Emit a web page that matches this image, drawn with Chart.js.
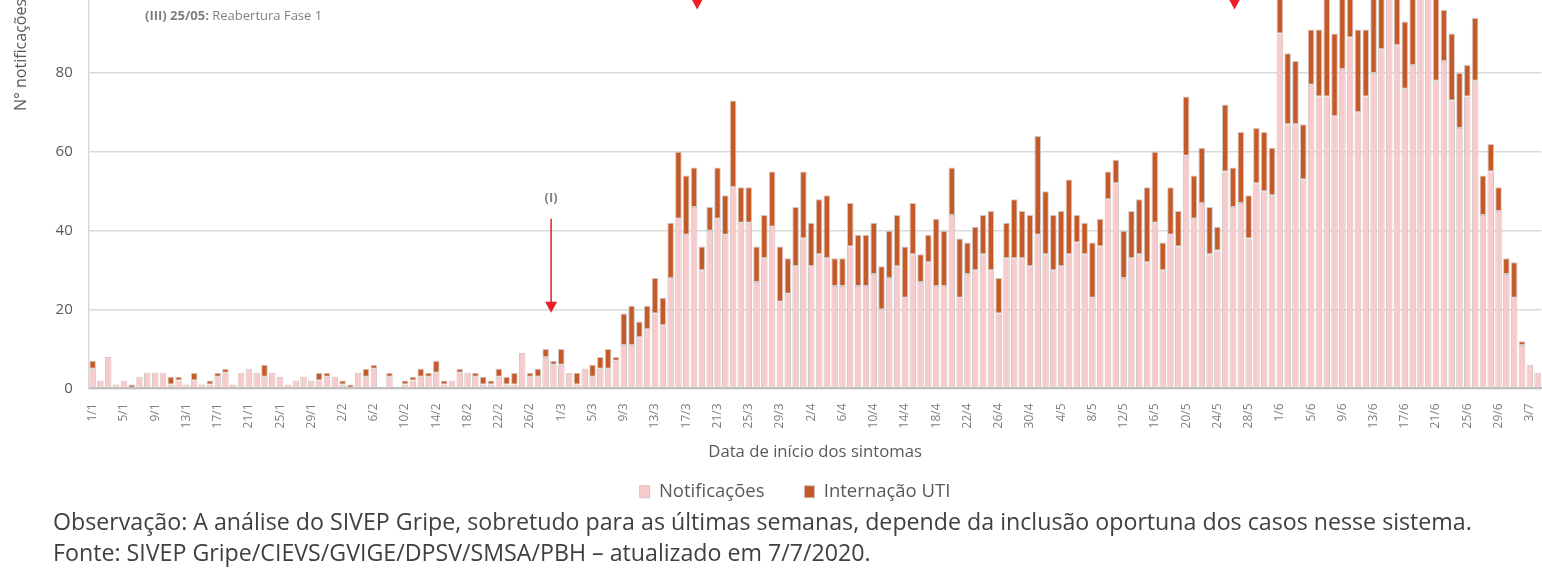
<!DOCTYPE html>
<html>
<head>
<meta charset="utf-8">
<script src="https://cdn.jsdelivr.net/npm/chart.js@4.4.0/dist/chart.umd.min.js"></script>
<style>
  html, body { margin: 0; padding: 0; background: #fff; }
  body { width: 1542px; height: 583px; overflow: hidden; position: relative; font-family: 'Open Sans', sans-serif; }
  #wrap { position: absolute; left: 0; top: -31px; width: 1559px; height: 542px; }
  #ytitle { position: absolute; left: -80px; top: 45px; width: 200px; height: 20px; line-height: 20px;
            text-align: center; transform: rotate(-90deg); font-size: 16px; color: #595959; }
  #nota { position: absolute; left: 145px; top: 7px; font-size: 13px; line-height: 16px; color: #7f7f7f; }
  #rodape { position: absolute; left: 53px; top: 506px; font-size: 23.2px; line-height: 31px; color: #404040; white-space: nowrap; }
</style>
</head>
<body>
<div id="wrap"><canvas id="grafico"></canvas></div>
<div id="ytitle">N° notificações</div>
<div id="nota"><b>(III) 25/05:</b> Reabertura Fase 1</div>
<div id="rodape">Observação: A análise do SIVEP Gripe, sobretudo para as últimas semanas, depende da inclusão oportuna dos casos nesse sistema.<br>Fonte: SIVEP Gripe/CIEVS/GVIGE/DPSV/SMSA/PBH – atualizado em 7/7/2020.</div>
<script>
// dias de 1/1 a 4/7 (2020)
var diasPorMes = [31, 29, 31, 30, 31, 30, 4];
var dias = [];
for (var m = 0; m < diasPorMes.length; m++) {
  for (var d = 1; d <= diasPorMes[m]; d++) dias.push(d + '/' + (m + 1));
}

var notificacoes = [
  5, 2, 8, 1, 2, 0, 3, 4, 4, 4, 1, 2, 1, 2, 1, 1, 3, 4, 1, 4,
  5, 4, 3, 4, 3, 1, 2, 3, 2, 2, 3, 3, 1, 0, 4, 3, 5, 0, 3, 0,
  1, 2, 3, 3, 4, 1, 2, 4, 4, 3, 1, 1, 3, 1, 1, 9, 3, 3, 8, 6,
  6, 4, 1, 5, 3, 5, 5, 7, 11, 11, 13, 15, 19, 16, 28, 43, 39, 46, 30, 40,
  43, 39, 51, 42, 42, 27, 33, 41, 22, 24, 31, 38, 31, 34, 33, 26, 26, 36, 26, 26,
  29, 20, 28, 31, 23, 34, 27, 32, 26, 26, 44, 23, 29, 30, 34, 30, 19, 33, 33, 33,
  31, 39, 34, 30, 31, 34, 37, 34, 23, 36, 48, 52, 28, 33, 34, 32, 42, 30, 39, 36,
  59, 43, 47, 34, 35, 55, 46, 47, 38, 52, 50, 49, 90, 67, 67, 53, 77, 74, 74, 69,
  81, 89, 70, 74, 80, 86, 99, 87, 76, 82, 100, 100, 78, 83, 73, 66, 74, 78, 44, 55,
  45, 29, 23, 11, 6, 4
];

var internacaoUTI = [
  2, 0, 0, 0, 0, 1, 0, 0, 0, 0, 2, 1, 0, 2, 0, 1, 1, 1, 0, 0,
  0, 0, 3, 0, 0, 0, 0, 0, 0, 2, 1, 0, 1, 1, 0, 2, 1, 0, 1, 0,
  1, 1, 2, 1, 3, 1, 0, 1, 0, 1, 2, 1, 2, 2, 3, 0, 1, 2, 2, 1,
  4, 0, 3, 0, 3, 3, 5, 1, 8, 10, 4, 6, 9, 7, 14, 17, 15, 10, 6, 6,
  13, 10, 22, 9, 9, 9, 11, 14, 14, 9, 15, 17, 11, 14, 16, 7, 7, 11, 13, 13,
  13, 11, 12, 13, 13, 13, 7, 7, 17, 14, 12, 15, 8, 11, 10, 15, 9, 9, 15, 12,
  13, 25, 16, 14, 14, 19, 7, 8, 14, 7, 7, 6, 12, 12, 14, 19, 18, 7, 12, 9,
  15, 11, 14, 12, 6, 17, 10, 18, 11, 14, 15, 12, 14, 18, 16, 14, 14, 17, 26, 21,
  19, 10, 21, 17, 22, 15, 4, 16, 17, 23, 4, 5, 26, 13, 17, 14, 8, 16, 10, 7,
  6, 4, 9, 1, 0, 0
];

var marcosY = [0, 20, 40, 60, 80, 100];

// setas de marcos (posicao no eixo de categorias e valores do eixo y)
var setas = [
  { indice: 58.7, de: 43, ate: 19.2, rotulo: '(I)' },
  { indice: 77.4, de: 125, ate: 96.1, rotulo: '' },
  { indice: 146.2, de: 125, ate: 96.1, rotulo: '' }
];

var pluginSetas = {
  id: 'setas',
  afterDatasetsDraw: function (chart) {
    var ctx = chart.ctx;
    var xs = chart.scales.x, ys = chart.scales.y;
    ctx.save();
    setas.forEach(function (s) {
      var x = xs.getPixelForValue(s.indice);
      var y0 = ys.getPixelForValue(s.de);
      var y1 = ys.getPixelForValue(s.ate);
      ctx.strokeStyle = '#ee1c25';
      ctx.fillStyle = '#ee1c25';
      ctx.lineWidth = 1.5;
      ctx.beginPath();
      ctx.moveTo(x, y0);
      ctx.lineTo(x, y1 - 10);
      ctx.stroke();
      ctx.beginPath();
      ctx.moveTo(x - 6, y1 - 11);
      ctx.lineTo(x + 6, y1 - 11);
      ctx.lineTo(x, y1);
      ctx.closePath();
      ctx.fill();
      if (s.rotulo) {
        ctx.fillStyle = '#7f7f7f';
        ctx.font = 'bold 13px "Open Sans"';
        ctx.textAlign = 'center';
        ctx.textBaseline = 'middle';
        ctx.fillText(s.rotulo, x, ys.getPixelForValue(s.de + 5.3));
      }
    });
    ctx.restore();
  }
};

var grafico = new Chart(document.getElementById('grafico'), {
  type: 'bar',
  data: {
    labels: dias,
    datasets: [{
      label: 'Notificações',
      data: notificacoes,
      backgroundColor: '#f8cacc',
      borderColor: 'rgba(205,192,188,0.9)',
      borderWidth: 1,
      borderSkipped: false,
      barPercentage: 0.84,
      categoryPercentage: 1
    }, {
      label: 'Internação UTI',
      data: internacaoUTI,
      backgroundColor: '#c55a28',
      borderColor: 'rgba(205,192,188,0.9)',
      borderWidth: 1,
      borderSkipped: false,
      barPercentage: 0.84,
      categoryPercentage: 1
    }]
  },
  options: {
    responsive: true,
    maintainAspectRatio: false,
    animation: false,
    layout: {
      padding: { left: 31, right: 0, top: 23, bottom: 0 }
    },
    plugins: {
      legend: {
        position: 'bottom',
        labels: {
          boxWidth: 10,
          boxHeight: 12,
          padding: 40,
          color: '#595959',
          font: { family: 'Open Sans', size: 18.5 }
        }
      },
      tooltip: { enabled: false }
    },
    scales: {
      x: {
        stacked: true,
        offset: true,
        grid: { display: false },
        border: { color: '#bfbfbf', width: 2 },
        ticks: {
          autoSkip: false,
          maxRotation: 90,
          minRotation: 90,
          padding: 7,
          color: '#7f7f7f',
          font: { family: 'Open Sans', size: 12 },
          callback: function (value, index) {
            return index % 4 === 0 ? dias[index] : '';
          }
        },
        title: {
          display: true,
          text: 'Data de início dos sintomas',
          color: '#595959',
          font: { family: 'Open Sans', size: 16.7 },
          padding: { top: 7, bottom: -20 }
        }
      },
      y: {
        stacked: true,
        min: 0,
        max: 100,
        afterBuildTicks: function (axis) {
          axis.ticks = marcosY.map(function (v) { return { value: v }; });
        },
        grid: { color: '#d9d9d9', lineWidth: 1.5, drawTicks: false },
        border: { color: '#d9d9d9', width: 1.5 },
        ticks: {
          padding: 16,
          color: '#595959',
          font: { family: 'Open Sans', size: 15 }
        }
      }
    }
  },
  plugins: [pluginSetas]
});
</script>
</body>
</html>
